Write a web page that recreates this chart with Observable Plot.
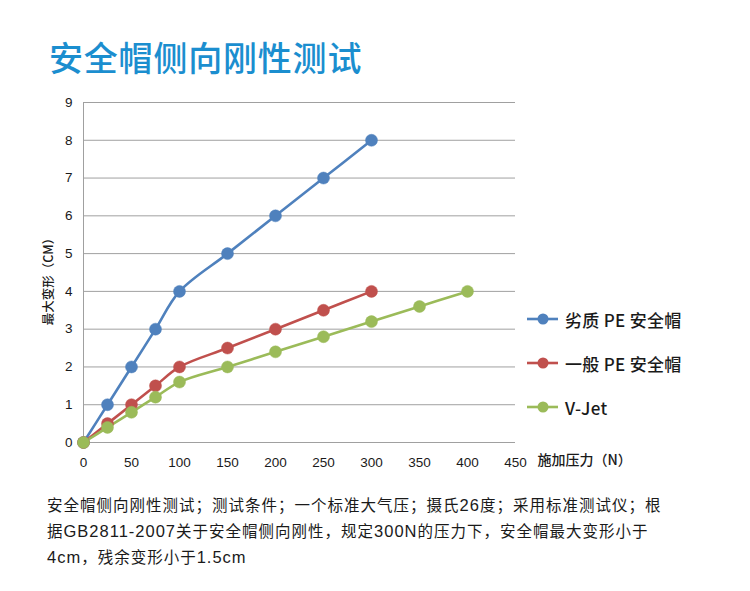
<!DOCTYPE html>
<html>
<head>
<meta charset="utf-8">
<script src="https://cdn.jsdelivr.net/npm/d3@7"></script>
<script src="https://cdn.jsdelivr.net/npm/@observablehq/plot@0.6"></script>
<style>
  body { margin: 0; background: #fff; }
  #page { position: relative; width: 750px; height: 591px; overflow: hidden; font-family: "Noto Sans CJK SC", "Noto Sans", sans-serif; }
  #title { position: absolute; left: 49px; top: 35px; font-size: 34px; line-height: 44px; color: #1b8ecf; letter-spacing: 0.8px; font-weight: 500; }
  #chart { position: absolute; left: 0; top: 80px; }
  #legend { position: absolute; left: 527px; top: 0; }
  .item { position: absolute; left: 0; white-space: nowrap; display: flex; align-items: center; }
  .item span { font-size: 17px; color: #1a1a1a; margin-left: 7px; letter-spacing: 0.3px; font-weight: 500; }
  #caption { position: absolute; left: 47px; top: 492px; width: 700px; font-size: 15.5px; line-height: 25px; color: #1a1a1a; letter-spacing: 1px; white-space: nowrap; }
  #caption .lat { font-family: "Liberation Sans", sans-serif; font-size: 16.5px; }
</style>
</head>
<body>
<div id="page">
  <div id="title"></div>
  <div id="chart"></div>
  <div id="legend"></div>
  <div id="caption"></div>
</div>
<script>
const titleText = "安全帽侧向刚性测试";
const captionLines = [
  "安全帽侧向刚性测试；测试条件；一个标准大气压；摄氏26度；采用标准测试仪；根",
  "据GB2811-2007关于安全帽侧向刚性，规定300N的压力下，安全帽最大变形小于",
  "4cm，残余变形小于1.5cm"
];
const seriesNames = ["劣质 PE 安全帽", "一般 PE 安全帽", "V-Jet"];
const colors = ["#4f81bd", "#c0504d", "#9bbb59"];
const forcePE = [0, 25, 50, 75, 100, 150, 200, 250, 300];
const forceVJet = [0, 25, 50, 75, 100, 150, 200, 250, 300, 350, 400];
const inferiorPE = [0, 1, 2, 3, 4, 5, 6, 7, 8];
const ordinaryPE = [0, 0.5, 1, 1.5, 2, 2.5, 3, 3.5, 4];
const vJet = [0, 0.4, 0.8, 1.2, 1.6, 2, 2.4, 2.8, 3.2, 3.6, 4];
const xTicks = [0, 50, 100, 150, 200, 250, 300, 350, 400, 450];
const yTicks = [0, 1, 2, 3, 4, 5, 6, 7, 8, 9];
const xLabel = "施加压力（N）";
const yLabel = "最大变形（CM）";

const rows = [];
forcePE.forEach((x, i) => rows.push({series: seriesNames[0], x, y: inferiorPE[i]}));
forcePE.forEach((x, i) => rows.push({series: seriesNames[1], x, y: ordinaryPE[i]}));
forceVJet.forEach((x, i) => rows.push({series: seriesNames[2], x, y: vJet[i]}));

document.getElementById("title").textContent = titleText;
document.getElementById("caption").innerHTML = captionLines
  .map(l => `<div>${l.replace(/([A-Za-z0-9.\-]+)/g, '<span class="lat">$1</span>')}</div>`).join("");

const tickFont = `"Liberation Sans", "Noto Sans CJK SC", sans-serif`;

const chart = Plot.plot({
  width: 750,
  height: 410,
  marginLeft: 83,
  marginRight: 235,
  marginTop: 22,
  marginBottom: 48,
  style: {fontFamily: tickFont, fontSize: "13.5px", color: "#1a1a1a", background: "transparent", overflow: "visible"},
  x: {domain: [0, 450]},
  y: {domain: [0, 9]},
  color: {domain: seriesNames, range: colors},
  marks: [
    Plot.gridY(yTicks, {stroke: "#a0a0a0", strokeOpacity: 1, strokeWidth: 1}),
    Plot.ruleX([0], {stroke: "#a0a0a0", strokeWidth: 1}),
    Plot.axisX({ticks: xTicks, tickSize: 0, tickPadding: 15, label: null, fontSize: 13.5}),
    Plot.axisY({ticks: yTicks, tickSize: 0, tickPadding: 11, label: null, fontSize: 13.5}),
    Plot.text([yLabel], {frameAnchor: "left", dx: -35, dy: 6, rotate: -90, textAnchor: "middle", text: d => d, fontSize: 12.5, fontWeight: 500, fontFamily: "Noto Sans CJK SC", fill: "#1a1a1a"}),
    Plot.text([xLabel], {frameAnchor: "bottom-right", dx: 22, dy: 22, textAnchor: "start", text: d => d, fontSize: 14, fontWeight: 500, fontFamily: "Noto Sans CJK SC", fill: "#1a1a1a"}),
    Plot.line(rows, {x: "x", y: "y", z: "series", stroke: "series", strokeWidth: 2.6, curve: "catmull-rom"}),
    Plot.dot(rows, {x: "x", y: "y", fill: "series", stroke: "series", r: 6, strokeWidth: 0.5})
  ]
});
document.getElementById("chart").appendChild(chart);

const legendTops = [319, 363, 407];
const legend = document.getElementById("legend");
seriesNames.forEach((name, i) => {
  const item = document.createElement("div");
  item.className = "item";
  item.style.top = (legendTops[i] - 10) + "px";
  item.style.height = "20px";
  item.innerHTML = `<svg width="31" height="14"><line x1="0" x2="31" y1="7" y2="7" stroke="${colors[i]}" stroke-width="2.6"/><circle cx="16" cy="7" r="5.5" fill="${colors[i]}"/></svg><span>${name}</span>`;
  legend.appendChild(item);
});
</script>
</body>
</html>
